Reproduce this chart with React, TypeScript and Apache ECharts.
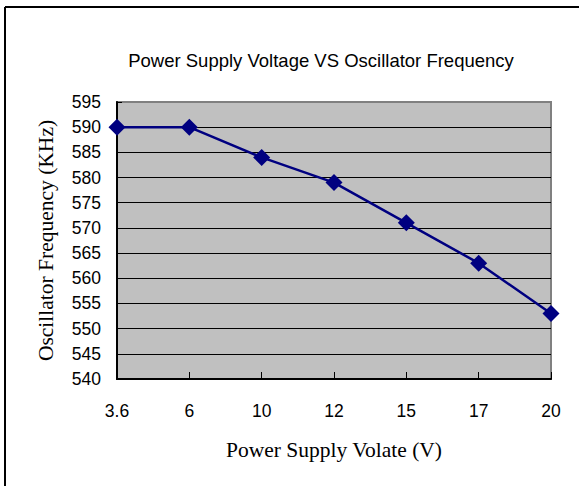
import React, { useEffect, useRef } from "react";
import * as echarts from "echarts";

const voltages = ["3.6", "6", "10", "12", "15", "17", "20"];
const frequencies = [590, 590, 584, 579, 571, 563, 553];
const titleText = "Power Supply Voltage VS Oscillator Frequency";
const xName = "Power Supply Volate (V)";
const yName = "Oscillator Frequency (KHz)";

export default function App() {
  const ref = useRef<HTMLDivElement>(null);
  useEffect(() => {
    if (!ref.current) return;
    const chart = echarts.init(ref.current, null, { renderer: "svg" });
    const splitColors: string[] = [];
    for (let i = 0; i < 12; i++) splitColors.push(i === 11 ? "#808080" : "#000000");
    chart.setOption({
      animation: false,
      backgroundColor: "#ffffff",
      title: {
        text: titleText,
        left: 316,
        top: 46,
        textAlign: "center",
        textStyle: {
          fontFamily: "Liberation Sans, Arial, sans-serif",
          fontSize: 18.5,
          fontWeight: "normal",
          color: "#000000",
        },
      },
      graphic: [
        { type: "line", shape: { x1: 5, y1: 7, x2: 579, y2: 7 }, style: { stroke: "#000", lineWidth: 2 } },
        { type: "line", shape: { x1: 5, y1: 7, x2: 5, y2: 486 }, style: { stroke: "#000", lineWidth: 2 } },
      ],
      grid: {
        left: 117,
        top: 102,
        right: 28,
        bottom: 107,
        show: true,
        backgroundColor: "#c0c0c0",
        borderColor: "#808080",
        borderWidth: 2,
      },
      xAxis: {
        type: "category",
        data: voltages,
        boundaryGap: false,
        name: xName,
        nameLocation: "middle",
        nameGap: 60,
        nameTextStyle: {
          fontFamily: "Liberation Serif, Times New Roman, serif",
          fontSize: 21.5,
          color: "#000",
        },
        axisLine: { lineStyle: { color: "#000", width: 2 } },
        axisTick: { inside: true, length: 7, lineStyle: { color: "#000" }, alignWithLabel: true },
        axisLabel: {
          margin: 23,
          fontFamily: "Liberation Sans, Arial, sans-serif",
          fontSize: 17.5,
          color: "#000",
        },
        splitLine: { show: false },
      },
      yAxis: {
        type: "value",
        min: 540,
        max: 595,
        interval: 5,
        name: yName,
        nameLocation: "middle",
        nameGap: 60,
        nameTextStyle: {
          fontFamily: "Liberation Serif, Times New Roman, serif",
          fontSize: 21.5,
          color: "#000",
        },
        axisLine: { show: true, lineStyle: { color: "#000", width: 2 } },
        axisTick: { show: true, inside: true, length: 5, lineStyle: { color: "#000" } },
        axisLabel: {
          margin: 16,
          fontFamily: "Liberation Sans, Arial, sans-serif",
          fontSize: 17.5,
          color: "#000",
        },
        splitLine: { show: true, lineStyle: { color: splitColors, width: 1 } },
      },
      series: [
        {
          type: "line",
          data: frequencies,
          symbol: "diamond",
          symbolSize: 17,
          lineStyle: { color: "#000080", width: 2.5 },
          itemStyle: { color: "#000080" },
        },
      ],
    });
    return () => chart.dispose();
  }, []);
  return (
    <div
      ref={ref}
      style={{ position: "fixed", left: 0, top: 0, width: 579, height: 486 }}
    />
  );
}
